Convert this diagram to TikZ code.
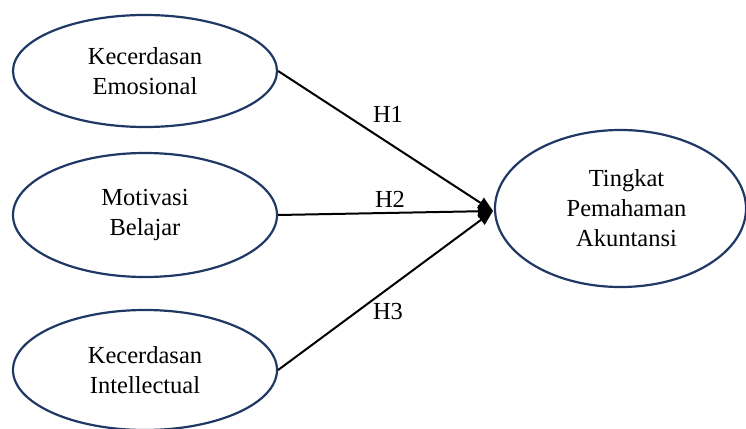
\documentclass[tikz,border=0pt]{standalone}
\usepackage{fontspec}
\setmainfont{Liberation Serif}
\usetikzlibrary{shapes.geometric,arrows.meta}
\definecolor{navy}{HTML}{1F3864}
\begin{document}
\begin{tikzpicture}[x=1pt,y=-1pt,
  var/.style={ellipse,draw=navy,line width=2.2pt,inner sep=0pt,align=center,
    font=\fontsize{24.5}{30}\selectfont},
  path/.style={draw=black,line width=2pt,-{Triangle[length=15pt,width=12pt]}},
  lab/.style={font=\fontsize{24.5}{30}\selectfont,inner sep=0pt}]
\useasboundingbox (0,0) rectangle (746,428);
\node[var,minimum width=264pt,minimum height=112pt] (a) at (145,71) {Kecerdasan\\Emosional};
\node[var,minimum width=264pt,minimum height=124pt] (b) at (145,215) {Motivasi\\Belajar};
\node[var,minimum width=264pt,minimum height=120pt] (c) at (145,370) {Kecerdasan\\Intellectual};
\node[var,minimum width=251pt,minimum height=157pt] (d) at (620.5,208.5) {\hspace*{12pt}Tingkat\\\hspace*{12pt}Pemahaman\\\hspace*{12pt}Akuntansi};
\coordinate (t) at (493,211);
\draw[path] (a.east) -- (t);
\draw[path] (b.east) -- (t);
\draw[path] (c.east) -- (t);
\node[lab] (h1) at (388,114) {H1};
\node[lab] (h2) at (390,199) {H2};
\node[lab] (h3) at (388,312) {H3};
\end{tikzpicture}
\end{document}
